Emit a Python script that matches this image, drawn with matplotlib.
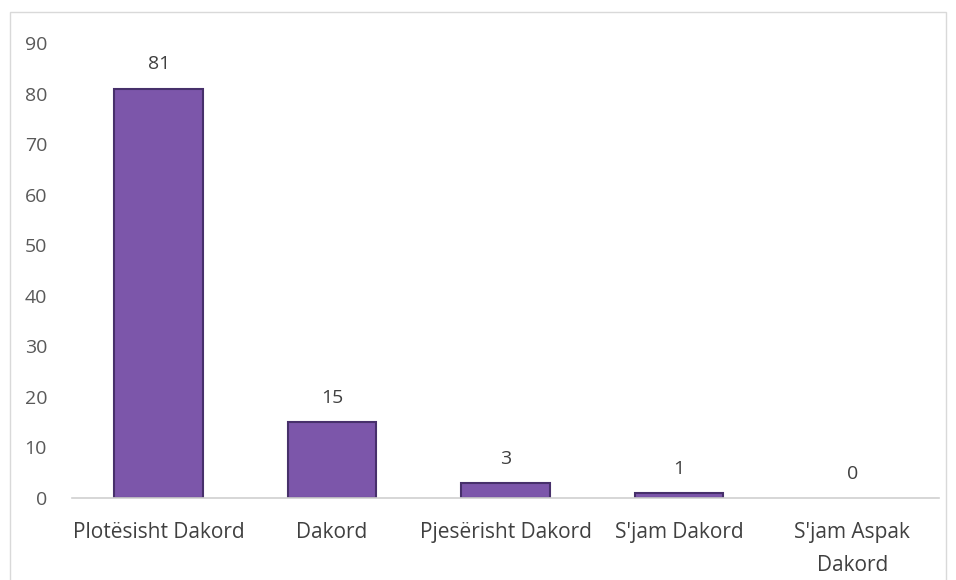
import matplotlib.pyplot as plt
from matplotlib.patches import Rectangle

categories = ["Plotësisht Dakord", "Dakord", "Pjesërisht Dakord", "S'jam Dakord", "S'jam Aspak\nDakord"]
values = [81, 15, 3, 1, 0]
yticks = [0, 10, 20, 30, 40, 50, 60, 70, 80, 90]

plt.rcParams["font.family"] = ["Open Sans", "DejaVu Sans"]

fig = plt.figure(figsize=(9.56, 5.8), dpi=100)
ax = fig.add_axes([72 / 956, 82 / 580, 867 / 956, 455 / 580])

x = list(range(len(categories)))
bars = ax.bar(x, values, width=0.51, color="#7c56aa", edgecolor="#47306b", linewidth=1.5)
# a zero-height bar shows no outline in the reference
for b, v in zip(bars, values):
    if v == 0:
        b.set_linewidth(0)

for xi, v in zip(x, values):
    ax.annotate(str(v), (xi, v), xytext=(0, 11), textcoords="offset points",
                ha="center", va="bottom", fontsize=14, color="#404040")

ax.set_xlim(-0.5, len(categories) - 0.5)
ax.set_ylim(0, 90)
ax.set_yticks(yticks)
ax.set_xticks(x)
ax.set_xticklabels(categories, fontsize=15, color="#404040", linespacing=1.75)
ax.tick_params(axis="y", labelsize=14, colors="#595959", length=0, pad=18)
ax.tick_params(axis="x", length=0, pad=17)

for side in ["top", "right", "left"]:
    ax.spines[side].set_visible(False)
ax.spines["bottom"].set_color("#d0d0d0")
ax.spines["bottom"].set_linewidth(1.2)

# outer chart border
fig.patches.append(Rectangle((10 / 956, -0.05), 936 / 956, (580 - 12) / 580 + 0.05,
                             transform=fig.transFigure, fill=False,
                             edgecolor="#d9d9d9", linewidth=1.0))

fig.savefig("out.png", dpi=100)
